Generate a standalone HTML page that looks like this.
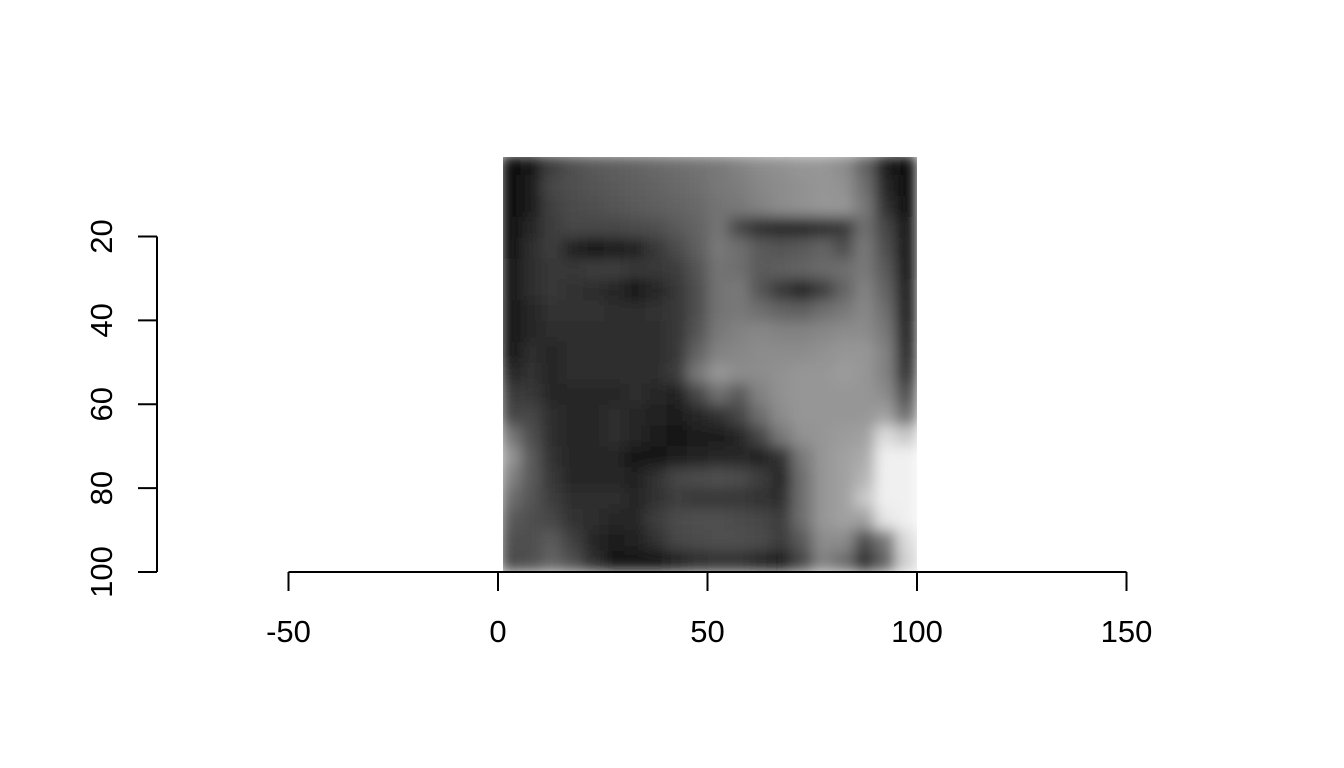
<!DOCTYPE html>
<html><head><meta charset="utf-8"><style>
html,body{margin:0;padding:0;background:#fff;}
svg{display:block;font-family:"Liberation Sans",Arial,sans-serif;}
</style></head><body>
<svg id="chart" width="1344" height="768" viewBox="0 0 1344 768">
<defs>
<filter id="soft" x="0" y="0" width="1" height="1"><feGaussianBlur stdDeviation="7" edgeMode="duplicate"/></filter>
<clipPath id="imgclip"><rect x="503" y="157" width="414" height="415"/></clipPath>
</defs>
<g id="img" clip-path="url(#imgclip)"><g id="cells" filter="url(#soft)"></g></g>
<g id="axes"></g>
</svg>
<script>
const xTicks=[-50,0,50,100,150];
const yTicks=[20,40,60,80,100];
const gray=[
[10,25,60,80,90,95,100,105,110,115,120,130,140,145,150,150,140,100,30,15],
[10,30,70,80,85,90,95,100,105,110,120,125,135,140,145,150,145,110,40,15],
[10,30,65,75,80,85,90,95,100,105,115,120,130,140,145,150,150,120,50,15],
[15,40,60,70,70,70,75,80,90,100,115,70,45,40,40,45,55,110,70,20],
[15,45,60,35,25,30,35,55,75,95,120,110,90,85,90,100,80,120,80,20],
[20,45,55,55,60,60,55,55,60,85,115,110,90,95,100,105,110,120,90,25],
[20,45,55,50,45,40,25,40,55,80,115,120,85,55,35,60,100,130,100,30],
[20,40,50,50,50,45,45,50,55,80,115,120,110,100,95,110,120,135,110,30],
[20,40,45,45,45,45,45,45,55,85,120,130,135,130,130,135,140,140,120,35],
[25,45,40,45,45,45,45,45,55,100,130,135,140,140,140,145,150,150,130,40],
[40,50,40,45,45,45,45,45,60,120,150,140,140,145,150,150,155,150,130,50],
[60,55,40,40,40,40,45,40,35,70,110,90,130,145,150,150,150,150,140,80],
[70,70,45,40,40,45,40,35,30,40,50,70,110,140,150,150,150,150,160,110],
[120,80,45,40,40,45,40,30,25,30,30,40,70,120,145,150,155,160,220,200],
[150,90,50,40,40,40,25,25,30,35,40,40,35,50,120,150,160,170,240,240],
[130,90,55,40,40,40,35,50,70,75,80,75,60,40,110,150,160,180,240,240],
[110,85,60,45,45,45,40,50,60,55,55,55,50,45,110,150,160,200,240,240],
[90,80,70,50,45,40,40,60,75,80,80,75,70,60,110,150,160,160,230,240],
[80,80,90,65,40,30,35,50,70,75,80,80,75,60,90,140,140,80,120,220],
[75,80,100,80,45,25,20,25,35,45,50,50,40,30,70,130,110,50,100,210]
];
const NS="http://www.w3.org/2000/svg";
const X=v=>498+(v-0)*(917-498)/100;
const Y=v=>236.5+(v-20)*(572-236.5)/80;
function mk(t,a,p){const e=document.createElementNS(NS,t);for(const k in a)e.setAttribute(k,a[k]);(p||document.getElementById('axes')).appendChild(e);return e;}
const cells=document.getElementById('cells');
const n=gray.length, m=gray[0].length;
const x0=X(0.5), x1=X(100), y0=Y(0.5), y1=Y(100);
for(let r=0;r<n;r++)for(let c=0;c<m;c++){
  const g=gray[r][c];
  const cx=x0+(x1-x0)*c/m, cy=y0+(y1-y0)*r/n;
  const el=mk('rect',{x:cx-0.5,y:cy-0.5,width:(x1-x0)/m+1,height:(y1-y0)/n+1,fill:`rgb(${g},${g},${g})`},cells);
  
  
}
const xa=mk('line',{x1:X(-50),x2:X(150),y1:572,y2:572,stroke:'#000','stroke-width':2});


xTicks.forEach(v=>{
  const t=mk('line',{x1:X(v),x2:X(v),y1:572,y2:591,stroke:'#000','stroke-width':2});
  
  
  const l=mk('text',{x:X(v),y:642,'text-anchor':'middle','font-size':31});
  l.textContent=v;
  
  
});
const ya=mk('line',{x1:157,x2:157,y1:Y(20),y2:Y(100),stroke:'#000','stroke-width':2});


yTicks.forEach(v=>{
  const t=mk('line',{x1:138,x2:157,y1:Y(v),y2:Y(v),stroke:'#000','stroke-width':2});
  
  
  const l=mk('text',{x:0,y:0,'text-anchor':'middle','font-size':31,transform:`translate(112,${Y(v)}) rotate(-90)`});
  l.textContent=v;
  
  
});
</script>
</body></html>
